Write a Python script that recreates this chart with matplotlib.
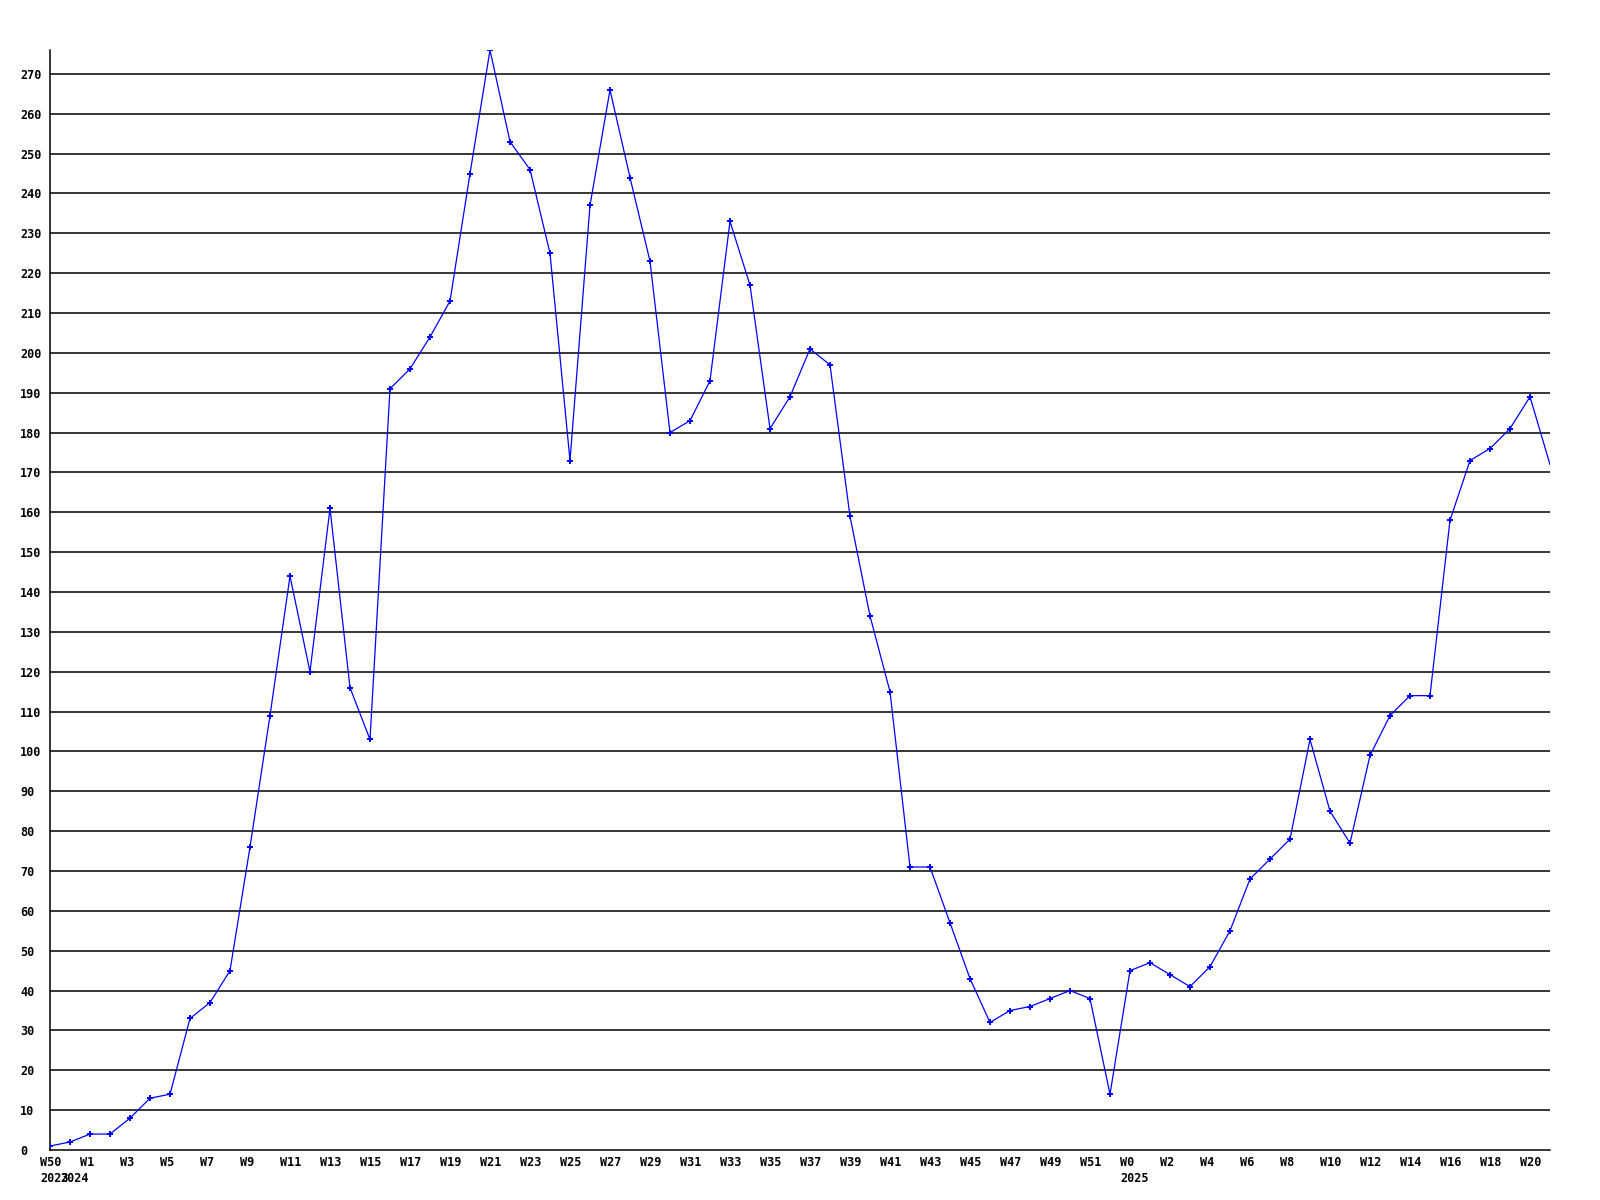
import matplotlib
matplotlib.use("Agg")
import matplotlib.pyplot as plt
import matplotlib.transforms as mtransforms

# weekly counts, W50 2023 .. W21 2025
values = [1, 2, 4, 4, 8, 13, 14, 33, 37, 45,
          76, 109, 144, 120, 161, 116, 103, 191, 196, 204,
          213, 245, 276, 253, 246, 225, 173, 237, 266, 244,
          223, 180, 183, 193, 233, 217, 181, 189, 201, 197,
          159, 134, 115, 71, 71, 57, 43, 32, 35, 36,
          38, 40, 38, 14, 45, 47, 44, 41, 46, 55,
          68, 73, 78, 103, 85, 77, 99, 109, 114, 114,
          158, 173, 176, 181, 189, 172]

week_labels = ["W50", "W1", "W3", "W5", "W7", "W9", "W11", "W13", "W15", "W17",
               "W19", "W21", "W23", "W25", "W27", "W29", "W31", "W33", "W35", "W37",
               "W39", "W41", "W43", "W45", "W47", "W49", "W51", "W0", "W2", "W4",
               "W6", "W8", "W10", "W12", "W14", "W16", "W18", "W20"]
week_pos = list(range(0, 76, 2))

year_labels = ["2023", "2024", "2025"]
year_pos = [0, 1, 54]

y_ticks = list(range(0, 280, 10))

font = dict(family="DejaVu Sans Mono", weight="bold", size=8.5)

fig = plt.figure(figsize=(16, 12), dpi=100)
ax = fig.add_axes([50 / 1600, 50 / 1200, 1500 / 1600, 1100 / 1200])

x = list(range(len(values)))
# last point sits on the right edge, no marker drawn there
ax.plot(x, values, color="#0000ff", lw=0.9, marker="P", ms=5, mew=0,
        markevery=list(range(len(values) - 1)), zorder=3)

ax.set_xlim(0, len(values) - 1)
ax.set_ylim(0, max(values))

for v in y_ticks[1:]:
    ax.axhline(v, color="black", lw=1.1, zorder=1)

for s in ["top", "right"]:
    ax.spines[s].set_visible(False)
for s in ["left", "bottom"]:
    ax.spines[s].set_color("black")
    ax.spines[s].set_linewidth(1.1)

ax.set_xticks([])
ax.set_yticks(y_ticks)
ax.set_yticklabels([str(v) for v in y_ticks], ha="left", **font)
ax.tick_params(axis="y", length=0, pad=21.6)

xt = ax.get_xaxis_transform()
wk_off = mtransforms.ScaledTranslation(-10 / 100, -6 / 100, fig.dpi_scale_trans)
yr_off = mtransforms.ScaledTranslation(-10 / 100, -22 / 100, fig.dpi_scale_trans)
for p, lab in zip(week_pos, week_labels):
    ax.text(p, 0, lab, transform=xt + wk_off, ha="left", va="top", clip_on=False, **font)
for p, lab in zip(year_pos, year_labels):
    ax.text(p, 0, lab, transform=xt + yr_off, ha="left", va="top", clip_on=False, **font)

fig.savefig("out.png", dpi=100, facecolor="white")
